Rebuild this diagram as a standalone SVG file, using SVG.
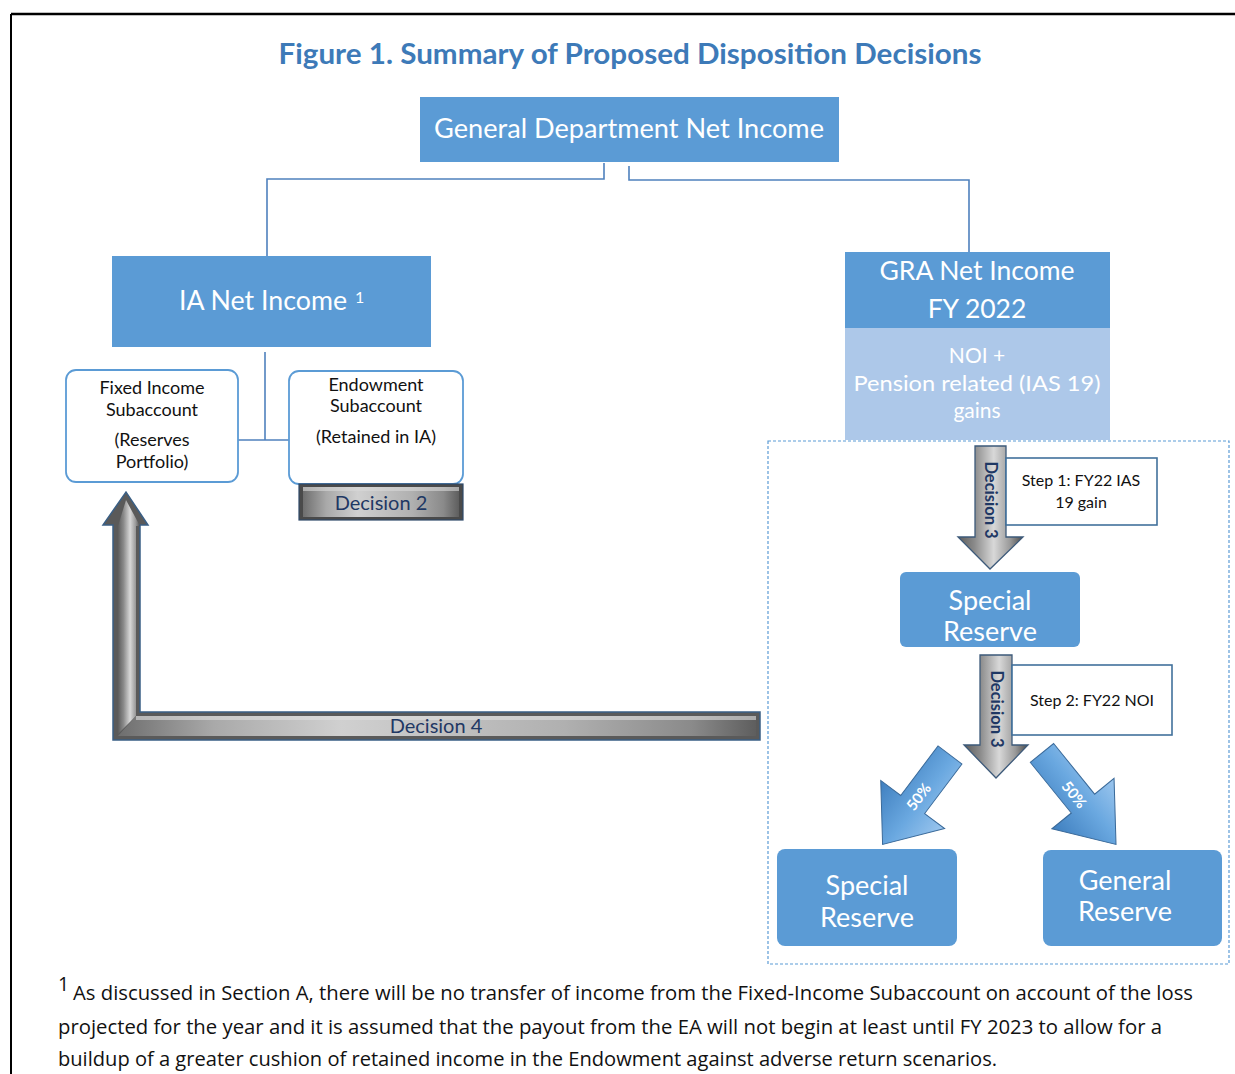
<svg xmlns="http://www.w3.org/2000/svg" width="1235" height="1074" viewBox="0 0 1235 1074">
<style>
.t{font-family:Lato,"Noto Sans","Liberation Sans",sans-serif;}
.w{fill:#ffffff;text-anchor:middle;}
.k{fill:#111111;text-anchor:middle;}
.n{fill:#1f3864;text-anchor:middle;}
.box{fill:#5b9bd5;}
.wbox{fill:#ffffff;stroke:#5b9bd5;stroke-width:1.8;}
.step{fill:#ffffff;stroke:#41719c;stroke-width:1.6;}
.conn{fill:none;stroke:#4f81bd;stroke-width:1.6;}
.fn{font-family:"Open Sans","Noto Sans","Liberation Sans",sans-serif;font-size:19.5px;fill:#111;}
</style>
<defs>
<linearGradient id="gH" x1="0" y1="0" x2="1" y2="0">
<stop offset="0" stop-color="#5c5c5c"/><stop offset="0.25" stop-color="#8a8a8a"/><stop offset="0.55" stop-color="#d8d8d8"/><stop offset="0.8" stop-color="#9a9a9a"/><stop offset="1" stop-color="#4a4a4a"/>
</linearGradient>
<linearGradient id="gBar" x1="0" y1="0" x2="1" y2="0">
<stop offset="0" stop-color="#6e6e6e"/><stop offset="0.15" stop-color="#a9a9a9"/><stop offset="0.35" stop-color="#d0d0d0"/><stop offset="0.5" stop-color="#c2c2c2"/><stop offset="0.7" stop-color="#b0b0b0"/><stop offset="0.9" stop-color="#8a8a8a"/><stop offset="1" stop-color="#5e5e5e"/>
</linearGradient>
<linearGradient id="gBlue" x1="0" y1="0" x2="0" y2="1">
<stop offset="0" stop-color="#9cc6ee"/><stop offset="0.45" stop-color="#6aa8e0"/><stop offset="1" stop-color="#3f7fbf"/>
</linearGradient>
<g id="bluearrow">
<polygon points="0,-15 62,-15 62,-40 112,0 62,40 62,15 0,15" fill="url(#gBlue)" stroke="#3a6a9a" stroke-width="1"/>
</g>
</defs>

<!-- frame -->
<line x1="11" y1="14" x2="1235" y2="14" stroke="#000" stroke-width="2.5"/>
<line x1="11" y1="14" x2="11" y2="1074" stroke="#000" stroke-width="2"/>

<text class="t" x="630" y="64" font-size="28" font-weight="bold" fill="#3d7ab8" text-anchor="middle" textLength="703" lengthAdjust="spacingAndGlyphs">Figure 1. Summary of Proposed Disposition Decisions</text>

<!-- dashed region -->
<rect x="768" y="441" width="461" height="523" fill="none" stroke="#5b9bd5" stroke-width="1.2" stroke-dasharray="3,2"/>

<g id="connectors">
<polyline class="conn" points="604,163 604,179 267,179 267,256"/>
<polyline class="conn" points="629,166 629,180 969,180 969,252"/>
<line class="conn" x1="265" y1="352" x2="265" y2="440"/>
<line class="conn" x1="238" y1="440" x2="290" y2="440"/>
</g>

<g id="node-gdni">
<rect class="box" x="420" y="97" width="419" height="65"/>
<text class="t w" x="629" y="138" font-size="26" textLength="390" lengthAdjust="spacingAndGlyphs">General Department Net Income</text>
</g>

<g id="node-ia">
<rect class="box" x="112" y="256" width="319" height="91"/>
<text class="t" x="179" y="310" font-size="26" fill="#fff" textLength="168" lengthAdjust="spacingAndGlyphs">IA Net Income</text>
<text class="t" x="355" y="303" font-size="16" fill="#fff">1</text>
</g>

<g id="node-fixed">
<rect class="wbox" x="66" y="370" width="172" height="112" rx="10"/>
<text class="t k" x="152" y="394" font-size="18">Fixed Income</text>
<text class="t k" x="152" y="416" font-size="18">Subaccount</text>
<text class="t k" x="152" y="446" font-size="18">(Reserves</text>
<text class="t k" x="152" y="468" font-size="18">Portfolio)</text>
</g>

<g id="node-endow">
<rect class="wbox" x="289" y="371" width="174" height="113" rx="10"/>
<text class="t k" x="376" y="391" font-size="18">Endowment</text>
<text class="t k" x="376" y="412" font-size="18">Subaccount</text>
<text class="t k" x="376" y="443" font-size="18">(Retained in IA)</text>
</g>

<g id="decision2">
<rect x="299" y="484" width="164" height="36" fill="#4a4a4a" stroke="#2f4a6a" stroke-width="1.2"/>
<rect x="303" y="487" width="156" height="30" fill="url(#gBar)"/>
<rect x="303" y="487" width="156" height="4" fill="#d8d8d8" opacity="0.6"/>
<text class="t n" x="381" y="510" font-size="20">Decision 2</text>
</g>

<g id="decision4">
<polygon points="760,712 140,712 140,525 148,525 126,492 103,525 113,525 113,740 760,740" fill="#5a5a5a" stroke="#3a5f85" stroke-width="1.5"/>
<polygon points="118,526 126,500 140,526 136,526 136,716 118,734" fill="url(#gH)"/>
<polygon points="136,716 756,716 756,736 118,736" fill="url(#gBar)"/>
<rect x="136" y="716" width="620" height="4" fill="#e0e0e0" opacity="0.6"/>
<text class="t n" x="436" y="733" font-size="20">Decision 4</text>
</g>

<g id="node-gra">
<rect class="box" x="845" y="252" width="265" height="76"/>
<rect x="845" y="328" width="265" height="112" fill="#adc8e9"/>
<text class="t w" x="977" y="280" font-size="26.5">GRA Net Income</text>
<text class="t w" x="977" y="318" font-size="26.5">FY 2022</text>
<text class="t w" x="977" y="363" font-size="21">NOI +</text>
<text class="t w" x="977" y="391" font-size="21" textLength="247" lengthAdjust="spacingAndGlyphs">Pension related (IAS 19)</text>
<text class="t w" x="977" y="418" font-size="21">gains</text>
</g>

<g id="decision3a">
<polygon points="975,446 1006,446 1006,537 1023,537 990,569 958,537 975,537" fill="url(#gH)" stroke="#3d5a7a" stroke-width="1.3"/>
<text class="t n" font-size="16.5" font-weight="bold" transform="translate(985,500) rotate(90)">Decision 3</text>
</g>

<g id="step1">
<rect class="step" x="1006" y="458" width="151" height="67"/>
<text class="t k" x="1081" y="486" font-size="16">Step 1: FY22 IAS</text>
<text class="t k" x="1081" y="508" font-size="16">19 gain</text>
</g>

<g id="node-special-mid">
<rect class="box" x="900" y="572" width="180" height="75" rx="6"/>
<text class="t w" x="990" y="610" font-size="27">Special</text>
<text class="t w" x="990" y="641" font-size="27">Reserve</text>
</g>

<g id="decision3b">
<polygon points="980,655 1012,655 1012,745 1028,745 996,778 964,745 980,745" fill="url(#gH)" stroke="#3d5a7a" stroke-width="1.3"/>
<text class="t n" font-size="16.5" font-weight="bold" transform="translate(991,709) rotate(90)">Decision 3</text>
</g>

<g id="step2">
<rect class="step" x="1012" y="665" width="160" height="70"/>
<text class="t k" x="1092" y="706" font-size="16">Step 2: FY22 NOI</text>
</g>

<g id="arrow50-left">
<use href="#bluearrow" transform="translate(950,755) rotate(127)"/>
<text class="t" font-size="15" font-weight="bold" fill="#fff" text-anchor="middle" transform="translate(923,800) rotate(-53)">50%</text>
</g>

<g id="arrow50-right">
<use href="#bluearrow" transform="translate(1042,753) rotate(51) scale(1.05,1)"/>
<text class="t" font-size="15" font-weight="bold" fill="#fff" text-anchor="middle" transform="translate(1070,798) rotate(51)">50%</text>
</g>

<g id="node-special-bottom">
<rect class="box" x="777" y="849" width="180" height="97" rx="8"/>
<text class="t w" x="867" y="895" font-size="27">Special</text>
<text class="t w" x="867" y="927" font-size="27">Reserve</text>
</g>

<g id="node-general">
<rect class="box" x="1043" y="850" width="179" height="96" rx="8"/>
<text class="t w" x="1125" y="890" font-size="27">General</text>
<text class="t w" x="1125" y="921" font-size="27">Reserve</text>
</g>

<g id="footnote">
<text class="fn" x="58" y="991" font-size="12">1</text>
<text class="fn" x="73" y="1000" textLength="1120" lengthAdjust="spacingAndGlyphs">As discussed in Section A, there will be no transfer of income from the Fixed-Income Subaccount on account of the loss</text>
<text class="fn" x="58" y="1034" textLength="1104" lengthAdjust="spacingAndGlyphs">projected for the year and it is assumed that the payout from the EA will not begin at least until FY 2023 to allow for a</text>
<text class="fn" x="58" y="1066" textLength="939" lengthAdjust="spacingAndGlyphs">buildup of a greater cushion of retained income in the Endowment against adverse return scenarios.</text>
</g>
</svg>
